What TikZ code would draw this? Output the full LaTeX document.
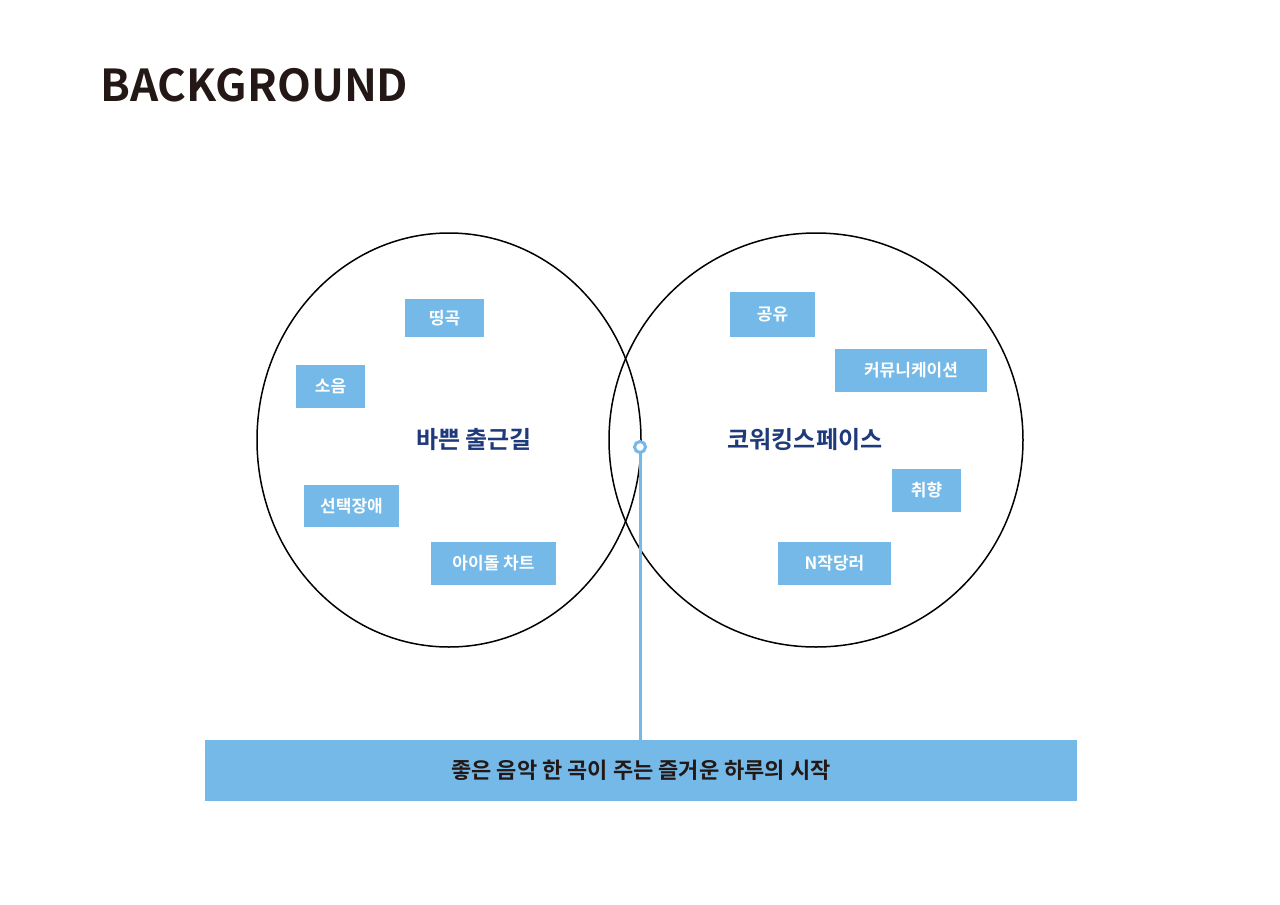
\documentclass[tikz,border=0pt]{standalone}
\usepackage{fontspec}
\setmainfont{Noto Sans CJK KR}[BoldFont={* Bold}]
\definecolor{sky}{HTML}{74B9E7}
\definecolor{navy}{HTML}{1F3A7A}
\definecolor{ink}{HTML}{231815}
\begin{document}
\begin{tikzpicture}[x=1pt,y=-1pt,
  tag/.style={fill=sky,text=white,font=\bfseries\fontsize{17}{17}\selectfont,inner sep=0pt,anchor=center},
  big/.style={text=navy,font=\bfseries\fontsize{24}{24}\selectfont}]
\useasboundingbox (0,0) rectangle (1280,905);
\node[anchor=west,text=ink,font=\bfseries\fontsize{44}{44}\selectfont,inner sep=0pt] (t) at (100,85) {BACKGROUND};
\draw[line width=1.5pt] (449,440) ellipse [x radius=192,y radius=207];
\draw[line width=1.5pt] (816,440) ellipse [x radius=207,y radius=207];
\node[big] (l) at (474,440) {바쁜 출근길};
\node[big] (r) at (805,440) {코워킹스페이스};
\node[tag,minimum width=79,minimum height=38] (a) at (444.5,318) {띵곡};
\node[tag,minimum width=69,minimum height=43] (b) at (330.5,386.5) {소음};
\node[tag,minimum width=95,minimum height=42] (c) at (351.5,506) {선택장애};
\node[tag,minimum width=125,minimum height=43] (d) at (493.5,563.5) {아이돌 차트};
\node[tag,minimum width=85,minimum height=45] (e) at (772.5,314.5) {공유};
\node[tag,minimum width=152,minimum height=43] (f) at (911,370.5) {커뮤니케이션};
\node[tag,minimum width=69,minimum height=43] (g) at (926.5,490.5) {취향};
\node[tag,minimum width=113,minimum height=43] (h) at (834.5,563.5) {N작당러};
\node[fill=sky,minimum width=872,minimum height=61,inner sep=0pt,text=ink,font=\bfseries\fontsize{22}{22}\selectfont] (bar) at (641,770.5) {좋은 음악 한 곡이 주는 즐거운 하루의 시작};
\node[circle,draw=sky,line width=3pt,fill=white,minimum size=11,inner sep=0pt] (dot) at (640,447) {};
\draw[sky,line width=3pt] (dot.south) -- (dot.south |- bar.north);
\end{tikzpicture}
\end{document}
